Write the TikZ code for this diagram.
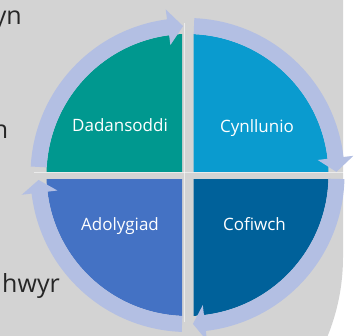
\documentclass[tikz,border=0pt]{standalone}
\usepackage{fontspec}
\setmainfont{Open Sans}
\definecolor{bggrey}{HTML}{D3D3D3}
\definecolor{qteal}{HTML}{00988F}
\definecolor{qcyan}{HTML}{0A9BCF}
\definecolor{qblue}{HTML}{4472C4}
\definecolor{qdark}{HTML}{00619A}
\definecolor{ringc}{HTML}{B3BFE3}
\definecolor{txt}{HTML}{262626}
\newcommand\ringarrow[3]{%
  \fill[ringc] (#1:157) arc[start angle=#1, end angle=#2, radius=157]
    -- (#2:167) -- (#3:149) -- (#2:131) -- (#2:141)
    arc[start angle=#2, end angle=#1, radius=141] -- cycle;}
\tikzset{
  qlabel/.style={text=white, font=\fontsize{17}{20}\selectfont, anchor=base, inner sep=0pt},
  side/.style={text=txt, font=\fontsize{25}{30}\selectfont, anchor=base east, inner sep=0pt}
}
\begin{document}
\begin{tikzpicture}[x=1pt,y=1pt]
\useasboundingbox (0,0) rectangle (363,335);
% grey panel with rounded lower right corner
\fill[bggrey] (0,335) -- (343,335) -- (343,78) arc[start angle=0, end angle=-90, radius=210] -- (0,-132) -- cycle;
% side text (cut off)
\node[side] (t1) at (22,310) {yn};
\node[side] (t2) at (8.5,197) {n};
\node[side] (t3) at (60,43) {hwyr};
% quadrants
\begin{scope}
  \clip (0,164) rectangle (182,335);
  \fill[qteal] (187.5,160) circle (141);
\end{scope}
\begin{scope}
  \clip (193.5,164) rectangle (363,335);
  \fill[qcyan] (187.5,160) circle (141);
\end{scope}
\begin{scope}
  \clip (0,0) rectangle (182,156);
  \fill[qblue] (187.5,160) circle (141);
\end{scope}
\begin{scope}
  \clip (193.5,0) rectangle (363,156);
  \fill[qdark] (187.5,160) circle (141);
\end{scope}
% faint highlight lines in the gaps
\draw[white, opacity=0.55, line width=1] (34,162.5) -- (344,162.5);
\draw[white, opacity=0.55, line width=1] (184,13) -- (184,312);
% circular arrows
\begin{scope}[shift={(187.5,160)}]
  \ringarrow{176.9}{97.5}{91.7}
  \ringarrow{87.5}{6.6}{1.2}
  \ringarrow{-1.5}{-83.3}{-87.9}
  \ringarrow{-92.1}{-173.2}{-178.1}
\end{scope}
% labels
\node[qlabel] (q1) at (120,204) {Dadansoddi};
\node[qlabel] (q2) at (257,203) {Cynllunio};
\node[qlabel] (q3) at (120,104.5) {Adolygiad};
\node[qlabel] (q4) at (254.5,104.5) {Cofiwch};
\end{tikzpicture}
\end{document}
